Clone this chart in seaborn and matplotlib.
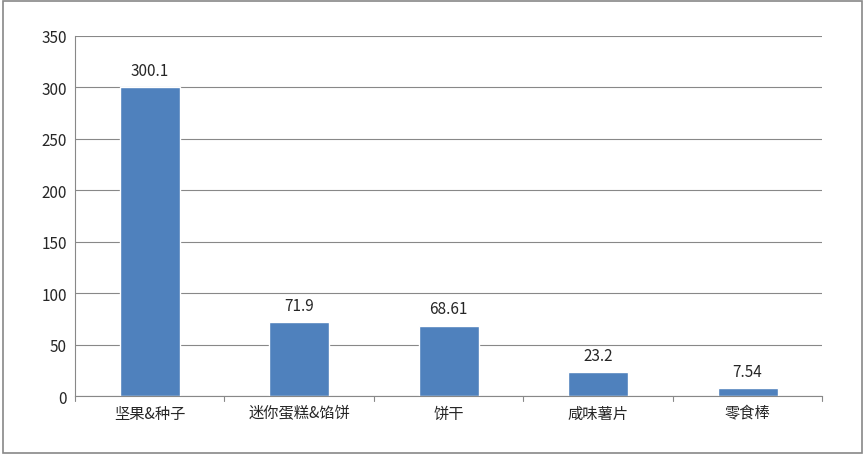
import matplotlib
matplotlib.use('Agg')
import matplotlib.pyplot as plt
import seaborn as sns
import pandas as pd

categories = ['坚果&种子', '迷你蛋糕&馅饼', '饼干', '咸味薯片', '零食棒']
values = [300.1, 71.9, 68.61, 23.2, 7.54]
labels = ['300.1', '71.9', '68.61', '23.2', '7.54']

sns.set_style('white')
plt.rcParams['font.family'] = ['Noto Sans CJK SC', 'DejaVu Sans']

df = pd.DataFrame({'cat': categories, 'val': values})
fig = plt.figure(figsize=(8.65, 4.56), dpi=100)
ax = fig.add_axes([0.0867, 0.129, 0.864, 0.79])
sns.barplot(data=df, x='cat', y='val', color='#4F81BD', saturation=1, width=0.4, ax=ax)

ax.set_ylim(0, 350)
ax.set_yticks(range(0, 351, 50))
ax.set_xlim(-0.5, 4.5)
ax.yaxis.grid(True, color='#888888', linewidth=0.8)
ax.set_axisbelow(True)
ax.set_xlabel('')
ax.set_ylabel('')
for s in ['top', 'right']:
    ax.spines[s].set_visible(False)
for s in ['left', 'bottom']:
    ax.spines[s].set_color('#888888')
ax.tick_params(axis='both', labelsize=11, length=0, pad=6)
for x in [-0.5, 0.5, 1.5, 2.5, 3.5, 4.5]:
    ax.plot([x, x], [0, -5], color='#888888', lw=0.8, clip_on=False)
for i, (v, l) in enumerate(zip(values, labels)):
    ax.text(i, v + 8, l, ha='center', va='bottom', fontsize=11)

fig.patches.append(plt.Rectangle((0.003, 0.005), 0.993, 0.99, transform=fig.transFigure,
                                 fill=False, edgecolor='#888888', lw=1.2))
fig.savefig('out.png', dpi=100)
